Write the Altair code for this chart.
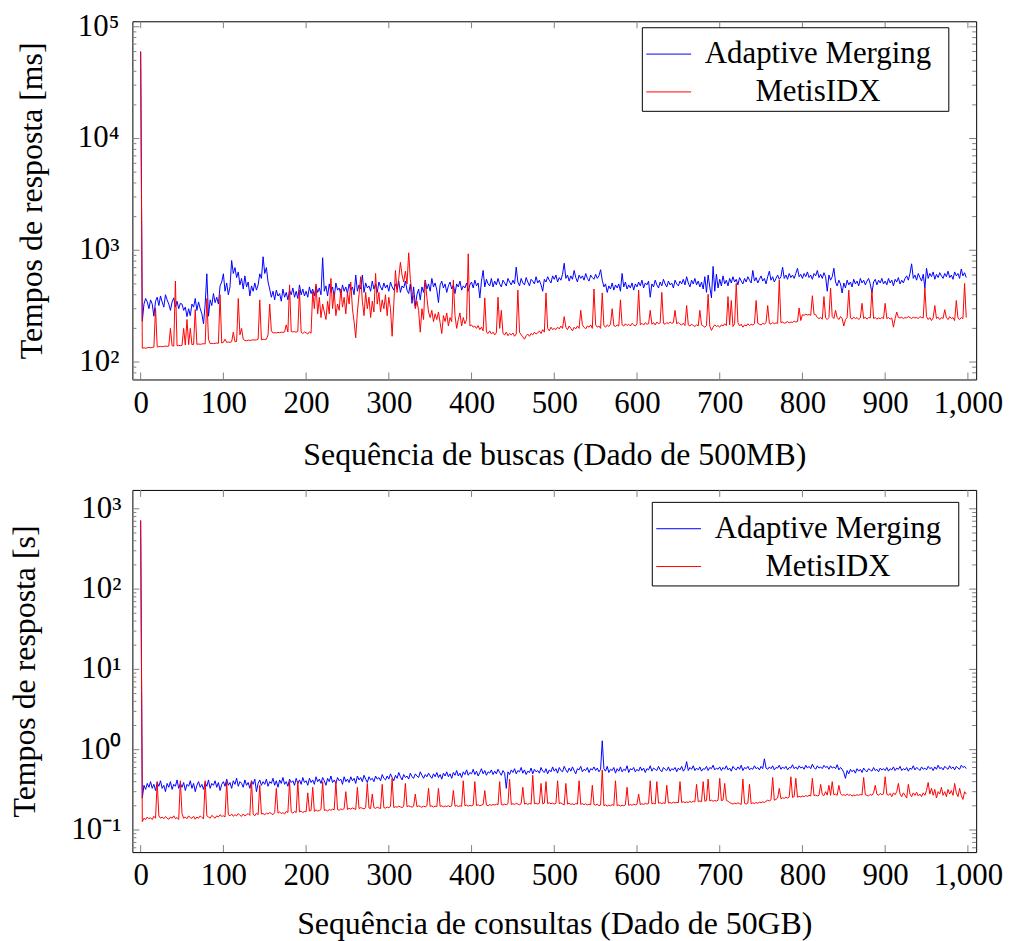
import altair as alt
import pandas as pd

SERIES = ["Adaptive Merging", "MetisIDX"]
COLORS = ["#0000ff", "#ff0000"]
ROW_SPAN = 50   # each row below covers 50 queries
STEP = 2        # one value per two queries

# ---- Top panel: Tempos de resposta [ms] (500MB) ----
AM_MS = [
    [60000, 232, 330, 370, 345, 300, 360, 330, 257, 350, 380, 320, 390, 345, 310, 400, 360, 330, 290, 345, 375, 310, 350, 300, 335],
    [330, 290, 310, 255, 300, 260, 330, 310, 370, 290, 345, 300, 270, 220, 330, 616, 257, 360, 320, 410, 340, 380, 330, 480, 520],
    [616, 430, 510, 400, 470, 810, 620, 700, 570, 640, 490, 560, 450, 590, 470, 520, 390, 480, 430, 510, 440, 490, 616, 560, 875],
    [620, 700, 520, 450, 380, 430, 360, 440, 390, 410, 350, 450, 380, 420, 360, 440, 400, 460, 380, 430, 370, 490, 400, 450, 390],
    [430, 380, 470, 410, 450, 390, 480, 420, 460, 400, 857, 430, 480, 390, 500, 420, 470, 380, 510, 440, 460, 400, 490, 430, 470],
    [410, 500, 440, 470, 400, 600, 430, 490, 450, 600, 420, 510, 460, 480, 430, 530, 450, 500, 420, 520, 470, 440, 510, 460, 490],
    [430, 520, 470, 440, 500, 450, 530, 420, 480, 460, 530, 440, 410, 500, 335, 470, 315, 400, 450, 360, 470, 420, 540, 450, 500],
    [430, 560, 470, 510, 440, 340, 490, 530, 460, 500, 420, 480, 520, 450, 490, 410, 500, 470, 530, 440, 480, 460, 510, 430, 490],
    [520, 460, 540, 480, 510, 375, 530, 660, 470, 550, 500, 480, 560, 470, 530, 490, 560, 500, 470, 540, 510, 480, 560, 520, 490],
    [540, 500, 706, 520, 480, 560, 510, 490, 570, 520, 480, 550, 530, 500, 580, 510, 540, 490, 430, 550, 520, 580, 540, 510, 590],
    [550, 600, 520, 570, 540, 610, 765, 560, 600, 530, 590, 550, 660, 570, 520, 600, 560, 590, 540, 620, 560, 530, 600, 570, 550],
    [610, 560, 590, 670, 540, 470, 500, 420, 480, 450, 510, 440, 490, 460, 500, 430, 620, 470, 520, 450, 490, 460, 510, 440, 500],
    [470, 520, 480, 540, 460, 510, 490, 530, 380, 500, 470, 540, 490, 460, 520, 480, 550, 500, 470, 530, 490, 510, 460, 540, 500],
    [480, 530, 500, 550, 490, 580, 510, 470, 540, 500, 560, 490, 530, 470, 520, 450, 580, 420, 600, 470, 375, 717, 430, 610, 460],
    [550, 480, 590, 500, 540, 480, 560, 510, 580, 520, 550, 490, 570, 530, 500, 560, 520, 580, 540, 510, 660, 530, 570, 510, 550],
    [590, 530, 560, 500, 580, 650, 540, 580, 520, 560, 600, 550, 580, 706, 560, 600, 550, 620, 570, 600, 560, 620, 690, 580, 610],
    [560, 620, 580, 640, 570, 600, 550, 620, 590, 660, 570, 610, 560, 630, 580, 430, 600, 540, 580, 690, 520, 480, 540, 500, 415],
    [510, 460, 540, 490, 520, 470, 550, 500, 530, 480, 560, 510, 540, 490, 530, 560, 500, 415, 520, 550, 490, 540, 510, 560, 500],
    [530, 490, 560, 510, 540, 480, 550, 520, 570, 500, 540, 510, 560, 590, 540, 620, 757, 560, 600, 540, 620, 570, 530, 610, 460],
    [690, 560, 620, 580, 640, 550, 610, 570, 630, 590, 560, 620, 580, 650, 570, 600, 550, 640, 590, 620, 560, 680, 590, 630, 570],
]
METIS_MS = [
    [60000, 133, 134, 133, 134, 135, 134, 135, 136, 305, 137, 137, 138, 137, 138, 139, 138, 139, 200, 140, 139, 530, 140, 141, 140],
    [141, 200, 142, 240, 143, 200, 143, 144, 295, 144, 145, 144, 145, 146, 145, 370, 160, 146, 147, 146, 147, 148, 147, 400, 148],
    [150, 160, 150, 151, 150, 152, 185, 152, 153, 370, 175, 200, 160, 156, 155, 157, 156, 157, 158, 157, 158, 160, 360, 158, 160],
    [159, 160, 175, 330, 190, 182, 183, 182, 184, 183, 185, 184, 186, 215, 186, 490, 188, 186, 187, 185, 188, 440, 185, 180, 186],
    [183, 178, 186, 181, 426, 300, 500, 270, 380, 250, 330, 280, 240, 350, 270, 560, 300, 420, 260, 330, 290, 450, 310, 380, 270],
    [420, 330, 520, 300, 230, 165, 280, 400, 580, 350, 260, 420, 300, 380, 250, 350, 280, 620, 330, 420, 280, 360, 300, 400, 260],
    [380, 300, 170, 330, 660, 420, 560, 780, 600, 520, 650, 500, 950, 550, 420, 380, 300, 350, 290, 185, 300, 240, 540, 380, 280],
    [250, 290, 230, 270, 240, 280, 225, 180, 260, 230, 275, 210, 250, 230, 540, 260, 200, 240, 275, 210, 250, 220, 240, 930, 210],
    [215, 205, 210, 200, 212, 195, 205, 190, 375, 185, 180, 190, 178, 185, 175, 183, 380, 200, 290, 180, 175, 185, 172, 180, 175],
    [182, 170, 178, 440, 185, 175, 168, 160, 172, 178, 170, 180, 175, 185, 178, 182, 190, 180, 195, 185, 415, 200, 190, 205, 195],
    [200, 195, 205, 198, 210, 200, 255, 205, 195, 210, 200, 190, 205, 198, 210, 200, 290, 215, 205, 198, 210, 205, 215, 200, 450],
    [215, 205, 210, 200, 415, 212, 205, 215, 208, 218, 300, 212, 208, 215, 210, 360, 215, 210, 220, 212, 218, 210, 222, 215, 210],
    [220, 440, 215, 222, 214, 225, 218, 220, 290, 218, 225, 215, 228, 220, 224, 420, 222, 218, 226, 220, 228, 222, 225, 290, 220],
    [226, 218, 215, 222, 212, 320, 215, 210, 218, 212, 208, 215, 210, 290, 215, 210, 205, 212, 404, 210, 192, 205, 215, 208, 212],
    [205, 215, 210, 220, 212, 385, 215, 355, 208, 220, 505, 225, 210, 218, 205, 215, 210, 220, 212, 218, 214, 220, 355, 222, 218],
    [215, 222, 218, 225, 320, 222, 218, 226, 220, 224, 222, 540, 225, 228, 222, 226, 230, 224, 228, 226, 232, 228, 230, 305, 235],
    [265, 262, 268, 264, 266, 262, 392, 268, 265, 250, 245, 250, 242, 385, 248, 240, 250, 460, 255, 245, 290, 250, 240, 255, 245],
    [210, 240, 250, 440, 248, 242, 252, 245, 250, 240, 248, 335, 245, 252, 242, 250, 248, 440, 245, 250, 242, 248, 244, 250, 245],
    [335, 245, 250, 242, 248, 205, 245, 280, 250, 248, 252, 245, 250, 248, 255, 250, 245, 252, 248, 250, 245, 255, 250, 248, 460],
    [255, 240, 250, 235, 248, 320, 245, 252, 240, 250, 245, 294, 250, 240, 255, 245, 250, 235, 355, 248, 240, 250, 245, 505, 250],
]

# ---- Bottom panel: Tempos de resposta [s] (50GB) ----
AM_S = [
    [716, 0.25, 0.36, 0.32, 0.38, 0.34, 0.40, 0.33, 0.37, 0.31, 0.39, 0.35, 0.41, 0.33, 0.36, 0.30, 0.38, 0.34, 0.40, 0.32, 0.37, 0.35, 0.42, 0.33, 0.38],
    [0.34, 0.39, 0.31, 0.37, 0.35, 0.41, 0.33, 0.38, 0.30, 0.36, 0.40, 0.34, 0.37, 0.32, 0.39, 0.35, 0.42, 0.33, 0.38, 0.36, 0.41, 0.34, 0.39, 0.31, 0.37],
    [0.40, 0.35, 0.43, 0.36, 0.39, 0.33, 0.41, 0.37, 0.44, 0.35, 0.40, 0.38, 0.34, 0.42, 0.36, 0.39, 0.33, 0.41, 0.37, 0.43, 0.30, 0.38, 0.42, 0.36, 0.40],
    [0.37, 0.43, 0.35, 0.40, 0.38, 0.44, 0.36, 0.41, 0.34, 0.42, 0.38, 0.45, 0.37, 0.40, 0.35, 0.43, 0.39, 0.41, 0.36, 0.44, 0.38, 0.42, 0.37, 0.45, 0.39],
    [0.41, 0.36, 0.44, 0.39, 0.42, 0.37, 0.46, 0.40, 0.43, 0.38, 0.45, 0.41, 0.36, 0.44, 0.40, 0.47, 0.39, 0.42, 0.38, 0.45, 0.41, 0.43, 0.37, 0.46, 0.40],
    [0.43, 0.39, 0.46, 0.41, 0.44, 0.38, 0.47, 0.42, 0.45, 0.40, 0.48, 0.43, 0.39, 0.46, 0.42, 0.44, 0.40, 0.47, 0.43, 0.45, 0.41, 0.49, 0.44, 0.42, 0.47],
    [0.43, 0.50, 0.45, 0.41, 0.48, 0.44, 0.52, 0.46, 0.42, 0.49, 0.45, 0.47, 0.43, 0.51, 0.46, 0.44, 0.50, 0.47, 0.45, 0.53, 0.48, 0.44, 0.49, 0.46, 0.51],
    [0.47, 0.44, 0.50, 0.46, 0.52, 0.45, 0.49, 0.43, 0.51, 0.47, 0.53, 0.46, 0.50, 0.44, 0.52, 0.48, 0.55, 0.47, 0.51, 0.45, 0.53, 0.49, 0.56, 0.48, 0.52],
    [0.50, 0.57, 0.49, 0.54, 0.47, 0.52, 0.58, 0.50, 0.55, 0.48, 0.53, 0.51, 0.56, 0.49, 0.54, 0.50, 0.57, 0.52, 0.48, 0.55, 0.51, 0.33, 0.53, 0.49, 0.56],
    [0.52, 0.58, 0.50, 0.55, 0.53, 0.60, 0.51, 0.56, 0.49, 0.54, 0.52, 0.59, 0.50, 0.57, 0.53, 0.55, 0.51, 0.60, 0.54, 0.52, 0.58, 0.50, 0.56, 0.53, 0.61],
    [0.54, 0.58, 0.51, 0.60, 0.55, 0.53, 0.62, 0.56, 0.52, 0.59, 0.54, 0.61, 0.55, 0.50, 0.58, 0.56, 0.62, 0.53, 0.57, 0.55, 0.60, 0.52, 0.58, 0.56, 0.61],
    [0.55, 0.59, 0.53, 0.57, 1.29, 0.58, 0.54, 0.62, 0.52, 0.57, 0.55, 0.60, 0.51, 0.58, 0.54, 0.61, 0.53, 0.57, 0.55, 0.63, 0.52, 0.58, 0.56, 0.60, 0.53],
    [0.57, 0.54, 0.61, 0.55, 0.59, 0.52, 0.58, 0.56, 0.63, 0.54, 0.59, 0.57, 0.55, 0.62, 0.56, 0.53, 0.60, 0.57, 0.55, 0.61, 0.54, 0.58, 0.56, 0.60, 0.53],
    [0.59, 0.56, 0.62, 0.54, 0.58, 0.71, 0.55, 0.60, 0.57, 0.63, 0.55, 0.59, 0.56, 0.61, 0.54, 0.58, 0.57, 0.62, 0.55, 0.60, 0.58, 0.64, 0.56, 0.59, 0.57],
    [0.61, 0.55, 0.60, 0.57, 0.63, 0.56, 0.59, 0.54, 0.62, 0.58, 0.56, 0.61, 0.57, 0.64, 0.55, 0.60, 0.58, 0.62, 0.56, 0.59, 0.57, 0.63, 0.58, 0.60, 0.56],
    [0.62, 0.58, 0.77, 0.59, 0.57, 0.61, 0.58, 0.63, 0.56, 0.60, 0.59, 0.64, 0.57, 0.61, 0.58, 0.62, 0.56, 0.60, 0.59, 0.65, 0.58, 0.61, 0.57, 0.63, 0.59],
    [0.61, 0.57, 0.64, 0.59, 0.62, 0.58, 0.66, 0.60, 0.57, 0.63, 0.59, 0.61, 0.58, 0.64, 0.60, 0.62, 0.57, 0.63, 0.59, 0.61, 0.58, 0.65, 0.56, 0.60, 0.57],
    [0.52, 0.44, 0.55, 0.50, 0.57, 0.53, 0.56, 0.51, 0.58, 0.54, 0.57, 0.52, 0.59, 0.55, 0.53, 0.58, 0.56, 0.54, 0.60, 0.55, 0.57, 0.53, 0.59, 0.56, 0.58],
    [0.55, 0.60, 0.54, 0.58, 0.56, 0.61, 0.55, 0.59, 0.57, 0.62, 0.55, 0.58, 0.56, 0.60, 0.54, 0.59, 0.57, 0.63, 0.56, 0.60, 0.58, 0.55, 0.61, 0.57, 0.59],
    [0.56, 0.62, 0.58, 0.60, 0.55, 0.61, 0.57, 0.64, 0.58, 0.60, 0.56, 0.62, 0.59, 0.57, 0.63, 0.58, 0.61, 0.56, 0.62, 0.59, 0.57, 0.64, 0.60, 0.62, 0.58],
]
METIS_S = [
    [716, 0.127, 0.14, 0.135, 0.145, 0.138, 0.142, 0.135, 0.148, 0.14, 0.40, 0.15, 0.14, 0.145, 0.138, 0.147, 0.14, 0.136, 0.145, 0.14, 0.15, 0.138, 0.143, 0.135, 0.41],
    [0.16, 0.14, 0.145, 0.138, 0.15, 0.142, 0.14, 0.148, 0.136, 0.145, 0.14, 0.15, 0.143, 0.138, 0.41, 0.15, 0.145, 0.14, 0.152, 0.146, 0.14, 0.15, 0.145, 0.155, 0.148],
    [0.15, 0.145, 0.40, 0.155, 0.15, 0.158, 0.148, 0.155, 0.15, 0.16, 0.152, 0.148, 0.158, 0.15, 0.155, 0.16, 0.152, 0.41, 0.158, 0.15, 0.162, 0.155, 0.36, 0.158, 0.16],
    [0.155, 0.162, 0.158, 0.165, 0.16, 0.155, 0.165, 0.33, 0.162, 0.168, 0.16, 0.165, 0.158, 0.17, 0.165, 0.40, 0.168, 0.162, 0.17, 0.165, 0.40, 0.168, 0.172, 0.165, 0.17],
    [0.168, 0.29, 0.172, 0.175, 0.34, 0.17, 0.178, 0.172, 0.175, 0.18, 0.40, 0.175, 0.178, 0.172, 0.18, 0.176, 0.182, 0.178, 0.40, 0.18, 0.176, 0.183, 0.179, 0.185, 0.30],
    [0.18, 0.186, 0.182, 0.188, 0.184, 0.18, 0.34, 0.185, 0.19, 0.186, 0.183, 0.19, 0.38, 0.188, 0.185, 0.28, 0.19, 0.186, 0.192, 0.188, 0.185, 0.37, 0.19, 0.187, 0.193],
    [0.19, 0.196, 0.44, 0.19, 0.195, 0.192, 0.198, 0.194, 0.19, 0.197, 0.38, 0.195, 0.2, 0.196, 0.192, 0.198, 0.28, 0.195, 0.2, 0.196, 0.192, 0.198, 0.194, 0.2, 0.33],
    [0.196, 0.2, 0.193, 0.198, 0.195, 0.33, 0.197, 0.2, 0.194, 0.199, 0.196, 0.2, 0.195, 0.2, 0.31, 0.198, 0.202, 0.196, 0.2, 0.197, 0.41, 0.2, 0.204, 0.198, 0.202],
    [0.2, 0.205, 0.40, 0.202, 0.206, 0.2, 0.204, 0.208, 0.31, 0.205, 0.2, 0.207, 0.203, 0.208, 0.204, 0.21, 0.206, 0.40, 0.208, 0.204, 0.21, 0.206, 0.212, 0.43, 0.208],
    [0.212, 0.208, 0.215, 0.21, 0.206, 0.213, 0.34, 0.21, 0.215, 0.208, 0.214, 0.21, 0.48, 0.212, 0.216, 0.21, 0.215, 0.38, 0.212, 0.216, 0.40, 0.213, 0.218, 0.212, 0.216],
    [0.21, 0.215, 0.41, 0.212, 0.218, 0.21, 0.205, 0.38, 0.21, 0.215, 0.208, 0.212, 0.206, 0.214, 0.21, 0.41, 0.208, 0.213, 0.207, 0.212, 0.205, 0.21, 0.206, 0.36, 0.208],
    [0.204, 0.21, 0.2, 0.205, 0.56, 0.2, 0.206, 0.198, 0.204, 0.2, 0.207, 0.202, 0.41, 0.2, 0.205, 0.198, 0.204, 0.2, 0.206, 0.34, 0.202, 0.208, 0.203, 0.21, 0.205],
    [0.21, 0.28, 0.207, 0.212, 0.208, 0.215, 0.21, 0.214, 0.41, 0.212, 0.216, 0.21, 0.40, 0.215, 0.219, 0.213, 0.218, 0.214, 0.36, 0.216, 0.22, 0.215, 0.222, 0.217, 0.221],
    [0.218, 0.40, 0.22, 0.225, 0.219, 0.224, 0.22, 0.226, 0.221, 0.228, 0.224, 0.37, 0.226, 0.23, 0.225, 0.40, 0.228, 0.232, 0.43, 0.23, 0.235, 0.228, 0.233, 0.229, 0.235],
    [0.44, 0.232, 0.236, 0.38, 0.234, 0.228, 0.22, 0.215, 0.21, 0.216, 0.212, 0.218, 0.213, 0.208, 0.43, 0.215, 0.21, 0.216, 0.37, 0.212, 0.218, 0.214, 0.22, 0.215, 0.222],
    [0.218, 0.224, 0.22, 0.228, 0.235, 0.23, 0.238, 0.45, 0.235, 0.24, 0.25, 0.33, 0.245, 0.252, 0.248, 0.255, 0.25, 0.258, 0.46, 0.255, 0.26, 0.44, 0.256, 0.262, 0.258],
    [0.265, 0.26, 0.268, 0.262, 0.27, 0.265, 0.44, 0.268, 0.272, 0.266, 0.27, 0.37, 0.275, 0.268, 0.3, 0.272, 0.36, 0.27, 0.40, 0.275, 0.28, 0.27, 0.36, 0.285, 0.27],
    [0.275, 0.268, 0.28, 0.27, 0.276, 0.265, 0.272, 0.268, 0.275, 0.27, 0.278, 0.272, 0.45, 0.275, 0.27, 0.265, 0.278, 0.27, 0.29, 0.36, 0.28, 0.27, 0.285, 0.275, 0.282],
    [0.46, 0.28, 0.27, 0.285, 0.26, 0.29, 0.275, 0.3, 0.38, 0.28, 0.26, 0.29, 0.27, 0.25, 0.37, 0.28, 0.26, 0.29, 0.27, 0.295, 0.265, 0.28, 0.26, 0.29, 0.27],
    [0.31, 0.39, 0.28, 0.33, 0.27, 0.32, 0.25, 0.3, 0.28, 0.34, 0.27, 0.3, 0.26, 0.32, 0.28, 0.31, 0.27, 0.38, 0.29, 0.26, 0.33, 0.27, 0.24, 0.3, 0.28],
]

X_TICKS = [0, 100, 200, 300, 400, 500, 600, 700, 800, 900, 1000]
TOP_MAJOR = [1e2, 1e3, 1e4, 1e5]
TOP_LABELS = ["10\u00b2", "10\u00b3", "10\u2074", "10\u2075"]
TOP_MINOR = [70, 80, 90] + [m * 10 ** e for e in (2, 3, 4) for m in range(2, 10)]
BOT_MAJOR = [0.1, 1, 10, 100, 1000]
BOT_LABELS = ["10\u207b\u00b9", "10\u2070", "10\u00b9", "10\u00b2", "10\u00b3"]
BOT_MINOR = [0.06, 0.07, 0.08, 0.09] + [m * 10.0 ** e for e in (-1, 0, 1, 2) for m in range(2, 10)]

FONT = "Liberation Serif"
TICK_FS = 31
TITLE_FS = 32
LEG_FS = 31
W = 848
GUARD = "\u200d\u2009\u2009"
LEG_EXPR = (f"datum.label == 'Adaptive Merging' ? '{GUARD}Adaptive Merging{GUARD[::-1]}' : datum.label")


def to_frame(am_rows, mx_rows):
    recs = []
    for name, rows in ((SERIES[0], am_rows), (SERIES[1], mx_rows)):
        for r, row in enumerate(rows):
            for k, v in enumerate(row):
                recs.append({"q": ROW_SPAN * r + STEP * k, "t": v, "s": name})
    return pd.DataFrame(recs)


def panel(am_rows, mx_rows, h, ydom, ymajor, ylabels, yminor, ytitle, xtitle, title_x,
          title_pad, lab_pad, leg_x, leg_y):
    df = to_frame(am_rows, mx_rows)
    xs = alt.Scale(domain=[-10, 1010], nice=False, zero=False)
    ys = alt.Scale(type="log", domain=ydom, nice=False)
    ax_x = alt.Axis(values=X_TICKS, format=",d", title=xtitle, grid=False, ticks=False,
                    domain=False, labelFont=FONT, labelFontSize=TICK_FS, labelColor="black",
                    labelPadding=9, labelFlush=False, titleFont=FONT, titleFontSize=TITLE_FS,
                    titleFontWeight="normal", titleColor="black", titlePadding=title_pad)
    ax_y = alt.Axis(values=ymajor, labels=False, title=ytitle, grid=False, ticks=False,
                    domain=False, titleFont=FONT, titleFontSize=TITLE_FS,
                    titleFontWeight="normal", titleColor="black", titleX=title_x)
    lines = alt.Chart(df).mark_line(strokeWidth=1, clip=True).encode(
        x=alt.X("q:Q", scale=xs, axis=ax_x),
        y=alt.Y("t:Q", scale=ys, axis=ax_y),
        color=alt.Color("s:N", scale=alt.Scale(domain=SERIES, range=COLORS),
                        legend=alt.Legend(
                            orient="none", legendX=leg_x, legendY=leg_y, title=None,
                            direction="vertical", symbolType="stroke", symbolSize=2025,
                            symbolStrokeWidth=1, labelFont=FONT, labelFontSize=LEG_FS,
                            labelColor="black", labelAlign="center", labelOffset=127,
                            labelLimit=500, padding=4, rowPadding=0, strokeColor="black",
                            fillColor="white", labelExpr=LEG_EXPR)),
    )
    layers = [lines]
    for vals, ln in ((yminor, 4), (ymajor, 7)):
        d = pd.DataFrame({"v": vals})
        base = alt.Chart(d).mark_rule(color="#808080", strokeWidth=1)
        yenc = alt.Y("v:Q", scale=ys, axis=ax_y)
        layers.append(base.encode(y=yenc, x=alt.value(0), x2=alt.value(ln)))
        layers.append(base.encode(y=yenc, x=alt.value(W), x2=alt.value(W - ln)))
    dx = pd.DataFrame({"v": X_TICKS})
    bx = alt.Chart(dx).mark_rule(color="#808080", strokeWidth=1)
    xenc = alt.X("v:Q", scale=xs, axis=ax_x)
    layers.append(bx.encode(x=xenc, y=alt.value(h), y2=alt.value(h - 7)))
    layers.append(bx.encode(x=xenc, y=alt.value(0), y2=alt.value(7)))
    dl = pd.DataFrame({"v": ymajor, "lab": ylabels})
    layers.append(alt.Chart(dl).mark_text(align="right", baseline="middle", font=FONT,
                                          fontSize=TICK_FS, color="black").encode(
        y=alt.Y("v:Q", scale=ys, axis=ax_y), x=alt.value(-lab_pad), text="lab:N"))
    return alt.layer(*layers).properties(width=W, height=h)


top = panel(AM_MS, METIS_MS, 360, [69.8, 112000], TOP_MAJOR, TOP_LABELS, TOP_MINOR,
            "Tempos de resposta [ms]", "Sequência de buscas (Dado de 500MB)",
            -84, 21, 13, 512, 6)
bottom = panel(AM_S, METIS_S, 364, [0.053, 1718], BOT_MAJOR, BOT_LABELS, BOT_MINOR,
               "Tempos de resposta [s]", "Sequência de consultas (Dado de 50GB)",
               -91, 18, 11, 522, 12)

chart = alt.concat(top, bottom, columns=1, spacing=18).resolve_scale(
    color="independent"
).resolve_legend(color="independent").properties(
    padding={"left": 0, "top": 0, "right": 5, "bottom": 0}
).configure_view(stroke="black", strokeWidth=1)

chart.save("out.html", embed_options={"renderer": "svg", "actions": False})
